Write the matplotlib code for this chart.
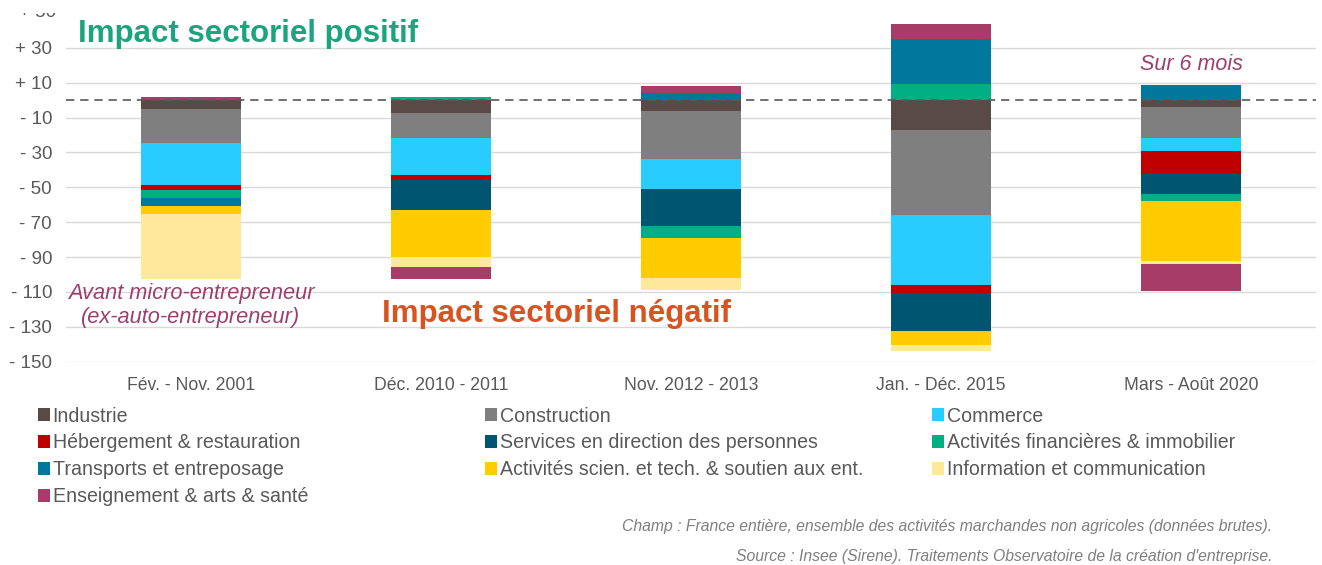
import numpy as np
import matplotlib.pyplot as plt
from matplotlib.transforms import Bbox, TransformedBbox

plt.rcParams['font.family'] = ['Liberation Sans', 'DejaVu Sans']

periods = ['Fév. - Nov. 2001', 'Déc. 2010 - 2011', 'Nov. 2012 - 2013',
           'Jan. - Déc. 2015', 'Mars - Août 2020']
sectors = ['Industrie', 'Construction', 'Commerce',
           'Hébergement & restauration', 'Services en direction des personnes',
           'Activités financières & immobilier', 'Transports et entreposage',
           'Activités scien. et tech. & soutien aux ent.',
           'Information et communication', 'Enseignement & arts & santé']
colors = ['#5a4a47', '#7f7f7f', '#29cdfd', '#c00000', '#005670',
          '#00b084', '#00789d', '#ffcc00', '#fee89a', '#a83c69']

industrie = [-5.4, -7.4, -6.2, -16.9, -4.0]
construction = [-19.2, -14.3, -27.3, -49.2, -17.5]
commerce = [-24.3, -21.4, -17.6, -39.7, -7.7]
hebergement = [-2.8, -2.5, 0.0, -4.8, -13.3]
services = [0.0, -17.2, -21.1, -22.0, -11.1]
financieres = [-4.2, 1.7, -6.9, 9.5, -4.4]
transports = [-4.8, 0.0, 4.1, 25.8, 8.5]
scien = [-4.4, -27.2, -22.7, -7.6, -34.3]
information = [-37.3, -5.7, -6.9, -3.8, -1.5]
enseignement = [1.8, -6.7, 3.8, 8.2, -15.7]

series = [industrie, construction, commerce, hebergement, services,
          financieres, transports, scien, information, enseignement]

yticks = [30, 10, -10, -30, -50, -70, -90, -110, -130, -150]
ytick_labels = ['+ 30', '+ 10', '- 10', '- 30', '- 50', '- 70',
                '- 90', '- 110', '- 130', '- 150']

GRAY = '#595959'
PURPLE = '#9c3f6c'

fig = plt.figure(figsize=(13.22, 5.65), dpi=100)
ax = fig.add_axes([66 / 1322, 203.3 / 565, 1250 / 1322, 0.639])

x = np.arange(len(periods))
pos_bottom = np.zeros(len(periods))
neg_bottom = np.zeros(len(periods))
handles = []
for name, vals, col in zip(sectors, series, colors):
    v = np.array(vals)
    bottom = np.where(v >= 0, pos_bottom, neg_bottom)
    b = ax.bar(x, v, width=0.4, bottom=bottom, color=col, label=name,
               edgecolor='none', zorder=3)
    handles.append(b)
    pos_bottom += np.where(v > 0, v, 0)
    neg_bottom += np.where(v < 0, v, 0)

ax.axhline(0, color=GRAY, linestyle=(0, (5, 3.5)), linewidth=1.2, zorder=4)

ax.set_xlim(-0.5, 4.5)
ax.set_ylim(-150, 57)
ax.set_yticks(yticks)
ax.set_yticklabels(ytick_labels)
ax.set_xticks(x)
ax.set_xticklabels(periods)
ax.grid(axis='y', color='#d9d9d9', linewidth=1, zorder=0)
ax.tick_params(length=0, colors=GRAY)
ax.tick_params(axis='y', pad=10, labelsize=13.5)
ax.tick_params(axis='x', pad=11, labelsize=12.7)
for s in ax.spines.values():
    s.set_visible(False)

# top label cut by the picture edge
top = ax.text(-0.5 - 10 / 250, 50, '+ 50', color=GRAY, fontsize=13.5,
              ha='right', va='center', clip_on=True)
top.set_clip_box(TransformedBbox(Bbox([[0, 0], [1, 552.4 / 565]]), fig.transFigure))

# annotations
ax.text(-0.452, 38, 'Impact sectoriel positif', color='#1aa57f',
        fontsize=22.5, fontweight='bold', va='center')
ax.text(0.764, -122.8, 'Impact sectoriel négatif', color='#d85320',
        fontsize=22.5, fontweight='bold', va='center')
ax.text(0, -117.7, 'Avant micro-entrepreneur\n(ex-auto-entrepreneur)',
        color=PURPLE, fontsize=15.7, style='italic',
        ha='center', va='center', linespacing=1.2)
ax.text(4, 20.5, 'Sur 6 mois', color=PURPLE, fontsize=15.5,
        style='italic', ha='center', va='center')

# legend in three columns
col_x = [38, 485, 932]
for i in range(3):
    leg = fig.legend(handles[i::3], sectors[i::3], loc='upper left',
                     bbox_to_anchor=(col_x[i] / 1322, 1 - 406.5 / 565),
                     frameon=False, fontsize=14.1, handlelength=0.6,
                     handleheight=0.6, handletextpad=0.15, labelspacing=0.405,
                     borderpad=0, borderaxespad=0)
    for t in leg.get_texts():
        t.set_color(GRAY)

fig.text(1272 / 1322, 1 - 527 / 565,
         'Champ : France entière, ensemble des activités marchandes non agricoles (données brutes).',
         ha='right', va='center', fontsize=11.3, style='italic', color='#7f7f7f')
fig.text(1272 / 1322, 1 - 557 / 565,
         "Source : Insee (Sirene). Traitements Observatoire de la création d'entreprise.",
         ha='right', va='center', fontsize=11.3, style='italic', color='#7f7f7f')

fig.savefig('out.png', dpi=100)
